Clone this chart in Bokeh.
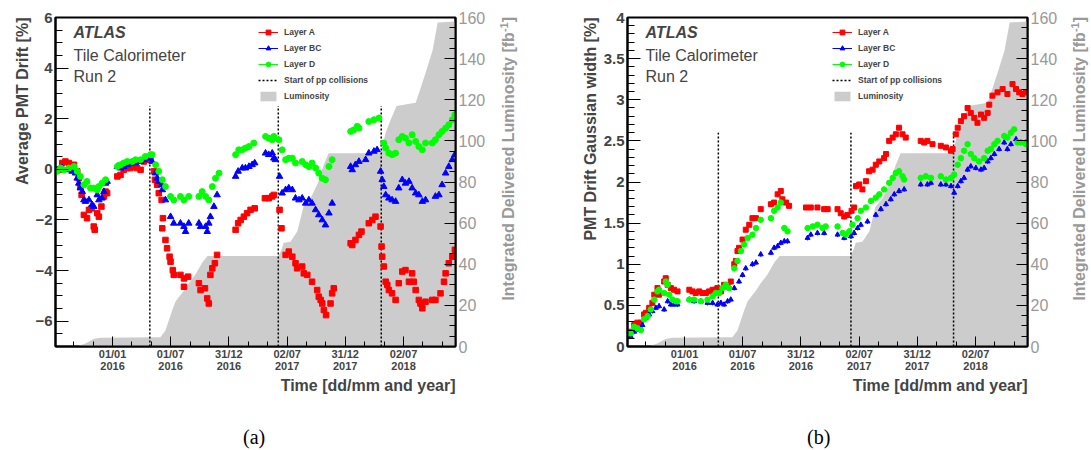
import pandas as pd
from bokeh.plotting import figure
from bokeh.models import (ColumnDataSource, Range1d, LinearAxis, FixedTicker,
                          DatetimeTickFormatter, CustomJSTickFormatter, Label,
                          Legend, LegendItem, Title, Div)
from bokeh.layouts import row, column
from bokeh.embed import file_html
from bokeh.resources import INLINE

# ---------------- data (days counted from 01/01/2016) ----------------
ORIGIN = "2016-01-01"
X_START_DAY = -179
X_END_DAY = 1076

TICK_DATES = ["2016-01-01", "2016-07-01", "2016-12-31",
              "2017-07-02", "2017-12-31", "2018-07-02"]

# cumulative delivered luminosity [fb^-1]
LUMI_DAYS = [-113, -85, -60, -38, 150, 166, 188, 198, 223, 238, 260, 282, 298,
             521, 530, 537, 558, 580, 599, 621, 643, 662, 678,
             841, 857, 872, 891, 951, 963, 982, 1004, 1020, 1076]
LUMI_VALS = [0, 1.5, 3.6, 4.3, 4.5, 7.8, 18, 22, 27, 30.5, 35, 41, 44,
             44, 47, 50.5, 51, 56, 68, 72, 79, 88, 94,
             94, 104, 110, 117, 118.5, 124, 133, 144, 157.6, 158]

# start of pp collisions
PP_DAYS_A = [117, 520, 843]
PP_DAYS_B = [106, 522, 844]

# ---- panel (a): average PMT drift [%] ----
A_DRIFT_DAYS = [-169, -158, -148, -137, -121, -111, -106, -101, -97, -90, -80, -74, -66, -59, -56, -48, -43, -35, -27, -22, -17,
                15, 25, 35, 46, 56, 67, 77, 88, 98, 109, 119,
                130, 133, 140, 145, 154, 158, 156, 166, 171, 179, 182, 189, 192, 213, 224, 224, 237, 271, 276, 290, 297, 302, 307, 313, 321, 328,
                386, 394, 402, 412, 422, 433, 446,
                478, 490, 501, 506,
                524, 530, 543, 553, 564, 574, 579, 595, 600, 611, 626, 642, 647, 653, 658, 663, 670, 684, 689, 694,
                747, 752, 762, 773, 781, 804, 815, 825,
                841, 844, 846, 851, 857, 862, 867, 877, 888, 898, 909, 919, 930, 940, 945, 951, 961, 966, 972, 982, 1003, 1013, 1029, 1040, 1045, 1055, 1066, 1074]
A_DRIFT = [-0.02, 0.25, 0.31, 0.25, 0.18, -0.08, -0.35, -0.68, -1.01, -1.80, -1.93, -1.60, -1.54, -2.26, -2.39, -1.73, -1.87, -1.47, -1.07, -0.88, -0.94,
           -0.28, -0.22, -0.02, 0.05, 0.05, 0.11, 0.05, -0.02, 0.31, 0.38, 0.44,
           -0.08, -0.41, -0.61, -0.94, -1.21, -1.93, -2.33, -2.79, -3.12, -3.45, -3.65, -3.98, -4.17, -4.17, -4.31, -4.64, -4.24, -4.50, -4.77, -4.70, -5.10, -5.30, -4.17, -3.91, -3.71, -3.38,
           -2.39, -2.13, -2.00, -1.87, -1.73, -1.60, -1.54,
           -1.14, -1.14, -1.07, -1.01,
           -1.60, -2.33, -3.38, -3.25, -3.45, -3.71, -3.91, -3.84, -4.11, -4.17, -4.44, -4.77, -5.03, -5.16, -5.30, -5.56, -5.76, -5.30, -4.90, -4.70,
           -2.92, -2.99, -2.79, -2.59, -2.46, -2.13, -2.00, -1.87,
           -2.26, -3.05, -3.45, -3.84, -4.44, -4.57, -4.77, -4.90, -5.16, -4.50, -4.04, -3.98, -4.44, -4.11, -4.44, -4.77, -5.16, -5.30, -5.49, -5.23, -5.16, -5.16, -4.90, -4.44, -4.11, -3.71, -3.45, -3.18]

BC_DRIFT_DAYS = [-174, -158, -142, -127, -116, -111, -106, -101, -95, -90, -85, -74, -64, -59, -48, -43, -33, -27, -22, -17,
                 15, 25, 35, 46, 56, 72, 88, 98, 114, 124,
                 135, 140, 145, 154, 156, 166, 182, 192, 213, 224, 229, 239, 271, 276, 292, 297, 302, 307, 318, 328,
                 386, 394, 407, 417, 428, 438, 446,
                 480, 490, 501, 506, 511,
                 524, 532, 543, 553, 564, 574, 585, 595, 606, 616, 626, 637, 647, 658, 668, 679, 689,
                 747, 752, 762, 773, 794, 804, 820, 830,
                 841, 846, 851, 857, 867, 877, 888, 898, 909, 919, 930, 940, 951, 961, 972, 982, 1013, 1024, 1034, 1045, 1055, 1066, 1074]
BC_DRIFT = [-0.02, 0.05, -0.02, -0.08, -0.15, -0.35, -0.55, -0.74, -0.88, -1.21, -1.27, -1.21, -1.40, -1.47, -1.01, -1.21, -1.14, -0.88, -0.55, -0.48,
            0.11, 0.05, 0.11, 0.18, 0.25, 0.25, 0.31, 0.38, 0.44, 0.31,
            -0.15, -0.35, -0.48, -0.61, -0.81, -1.21, -1.87, -2.13, -2.13, -2.26, -2.46, -2.13, -2.13, -2.26, -2.26, -2.46, -2.13, -1.87, -1.47, -1.01,
            -0.28, -0.08, 0.05, 0.05, 0.11, 0.18, 0.25,
            0.64, 0.58, 0.64, 0.44, 0.38,
            -0.28, -0.94, -0.81, -0.74, -0.81, -1.14, -1.21, -1.14, -1.34, -1.21, -1.34, -1.60, -1.80, -2.00, -2.20, -1.73, -1.34,
            0.11, -0.02, 0.18, 0.31, 0.38, 0.64, 0.71, 0.77,
            -0.08, -0.41, -0.68, -1.01, -1.14, -1.21, -1.27, -0.74, -0.41, -0.55, -0.48, -0.74, -0.94, -1.01, -1.27, -1.21, -1.07, -1.01, -0.61, -0.15, 0.11, 0.38, 0.58]

D_DRIFT_DAYS = [-174, -163, -153, -137, -121, -111, -101, -90, -80, -69, -59, -48, -43, -33, -22,
                15, 25, 35, 46, 62, 72, 88, 103, 119, 124,
                135, 145, 156, 166, 182, 192, 213, 224, 239, 271, 281, 292, 302, 313, 323, 334,
                386, 396, 407, 417, 428, 443,
                480, 490, 501, 506, 522, 532,
                543, 553, 564, 574, 595, 606, 616, 626, 637, 647, 658, 668, 679, 689,
                747, 757, 768, 773, 804, 820, 836,
                851, 857, 867, 877, 888, 898, 909, 919, 930, 940, 951, 961, 972, 982, 1003, 1013, 1024, 1034, 1045, 1055, 1066, 1074]
D_DRIFT = [-0.08, 0.05, -0.02, 0.05, 0.11, -0.08, -0.28, -0.61, -0.48, -0.74, -0.74, -0.81, -0.68, -0.55, -0.41,
           0.11, 0.18, 0.25, 0.31, 0.31, 0.38, 0.38, 0.51, 0.58, 0.58,
           0.18, -0.08, -0.41, -0.68, -1.07, -1.21, -1.07, -1.21, -1.07, -1.07, -0.88, -1.07, -1.21, -0.68, -0.35, -0.15,
           0.58, 0.77, 0.77, 0.84, 0.90, 1.04,
           1.30, 1.23, 1.17, 1.30, 1.17, 0.77,
           0.38, 0.44, 0.44, 0.25, 0.31, 0.18, 0.11, 0.25, 0.05, -0.15, -0.35, -0.41, 0.11, 0.38,
           1.50, 1.56, 1.70, 1.63, 1.89, 1.96, 2.03,
           1.04, 0.84, 0.64, 0.58, 0.64, 1.17, 1.30, 1.23, 1.04, 1.37, 1.10, 0.90, 0.77, 1.04, 1.04, 1.17, 1.37, 1.50, 1.63, 1.76, 1.96, 2.16]

# ---- panel (b): PMT drift Gaussian width [%] ----
A_WIDTH_DAYS = [-169, -158, -148, -137, -127, -121, -111, -101, -95, -85, -80, -64, -59, -53, -43, -33, -22,
                15, 25, 35, 46, 56, 67, 77, 88, 98, 103, 114, 124, 135, 145,
                156, 161, 166, 171, 182, 192, 203, 213, 224, 239, 271, 281, 292, 302, 307, 318, 328,
                381, 396, 417, 438, 449, 480, 490, 501, 511, 524, 532,
                538, 548, 558, 569, 579, 590, 600, 611, 626, 632, 642, 653, 663, 673, 684, 694,
                741, 752, 762, 778, 804, 820, 836, 841,
                851, 857, 867, 877, 888, 898, 909, 919, 930, 940, 951, 956, 966, 982, 998, 1013, 1029, 1040, 1050, 1060, 1071]
A_WIDTH = [0.18, 0.26, 0.29, 0.29, 0.39, 0.41, 0.47, 0.53, 0.63, 0.71, 0.63, 0.79, 0.83, 0.75, 0.71, 0.69, 0.67,
           0.69, 0.67, 0.65, 0.67, 0.65, 0.65, 0.67, 0.69, 0.69, 0.71, 0.67, 0.75, 0.73, 0.79,
           1.00, 1.04, 1.16, 1.20, 1.30, 1.42, 1.48, 1.56, 1.56, 1.67, 1.73, 1.75, 1.85, 1.89, 1.79, 1.75, 1.71,
           1.69, 1.69, 1.69, 1.67, 1.67, 1.67, 1.62, 1.58, 1.60, 1.65, 1.69,
           1.95, 1.97, 1.91, 2.01, 2.13, 2.15, 2.21, 2.25, 2.29, 2.34, 2.50, 2.54, 2.58, 2.66, 2.58, 2.54,
           2.50, 2.48, 2.50, 2.46, 2.44, 2.42, 2.38, 2.40,
           2.58, 2.66, 2.74, 2.80, 2.90, 2.84, 2.78, 2.72, 2.82, 2.78, 2.84, 2.94, 3.05, 3.09, 3.13, 3.07, 3.19, 3.13, 3.09, 3.07, 3.09]

BC_WIDTH_DAYS = [-169, -158, -142, -132, -121, -111, -101, -90, -80, -64, -53, -43, -33, -22,
                 15, 30, 51, 72, 88, 103, 114, 124, 135, 145,
                 156, 171, 182, 192, 213, 224, 239, 271, 281, 292, 302, 313, 323,
                 386, 396, 417, 438, 480, 501, 522, 532,
                 543, 553, 574, 600, 616, 632, 647, 658, 673, 689,
                 741, 762, 773, 804, 820, 836,
                 846, 857, 867, 877, 888, 898, 914, 930, 940, 951, 961, 972, 987, 1003, 1013, 1024, 1040, 1055, 1071]
BC_WIDTH = [0.12, 0.18, 0.20, 0.26, 0.35, 0.39, 0.43, 0.47, 0.49, 0.45, 0.55, 0.51, 0.51, 0.51,
            0.57, 0.55, 0.55, 0.53, 0.53, 0.51, 0.53, 0.51, 0.55, 0.57,
            0.71, 0.79, 0.87, 0.95, 1.00, 1.02, 1.12, 1.14, 1.20, 1.22, 1.26, 1.28, 1.28,
            1.32, 1.36, 1.38, 1.38, 1.36, 1.32, 1.34, 1.38,
            1.44, 1.48, 1.52, 1.60, 1.67, 1.73, 1.79, 1.85, 1.89, 1.91,
            1.97, 1.97, 1.99, 1.97, 1.97, 1.95,
            1.87, 1.95, 2.01, 2.05, 2.15, 2.19, 2.17, 2.15, 2.17, 2.25, 2.29, 2.34, 2.40, 2.48, 2.40, 2.46, 2.52, 2.48, 2.48]

D_WIDTH_DAYS = [-169, -158, -148, -137, -127, -116, -106, -95, -85, -80, -64, -59, -53, -48, -38, -27, -22,
                15, 30, 51, 72, 88, 98, 109, 119, 130, 140,
                156, 166, 177, 187, 198, 213, 224, 239, 271, 281, 292, 302, 313, 323,
                386, 402, 417, 433, 443, 480, 496, 506, 517, 527,
                543, 553, 569, 585, 600, 611, 626, 642, 653, 663, 673, 684, 689,
                741, 757, 773, 804, 820, 836,
                846, 857, 867, 877, 888, 898, 909, 924, 940, 951, 961, 972, 982, 1003, 1013, 1024, 1034, 1045, 1055, 1071]
D_WIDTH = [0.16, 0.24, 0.22, 0.20, 0.33, 0.37, 0.45, 0.57, 0.67, 0.69, 0.65, 0.79, 0.75, 0.63, 0.57, 0.55, 0.55,
           0.57, 0.57, 0.55, 0.57, 0.61, 0.65, 0.65, 0.71, 0.75, 0.71,
           0.95, 1.04, 1.16, 1.24, 1.32, 1.36, 1.44, 1.54, 1.56, 1.65, 1.69, 1.75, 1.44, 1.40,
           1.44, 1.46, 1.48, 1.44, 1.46, 1.46, 1.38, 1.36, 1.40, 1.48,
           1.56, 1.65, 1.69, 1.77, 1.81, 1.85, 1.91, 1.99, 2.05, 2.11, 2.13, 2.07, 2.03,
           2.05, 2.07, 2.05, 2.07, 2.03, 2.05,
           2.09, 2.21, 2.29, 2.38, 2.46, 2.34, 2.29, 2.25, 2.29, 2.38, 2.40, 2.46, 2.50, 2.56, 2.54, 2.60, 2.64, 2.48, 2.48, 2.46]
WIDTH_ERR = 0.03  # half-length of the error bars in panel (b)

LEGEND_LABELS = ["Layer A", "Layer BC", "Layer D", "Start of pp collisions", "Luminosity"]
LUMI_TITLE = "Integrated Delivered Luminosity [fb<sup style='font-size:11px'>-1</sup>]"

# ---------------- styling ----------------
FONT = "Liberation Sans"
RED, BLUE, GREEN = "#ff0000", "#0000ff", "#00ff00"
LUMI_FILL = "#cccccc"
LUMI_TEXT = "#999999"
DAY_MS = 86400000.0
ORIGIN_MS = pd.Timestamp(ORIGIN).value / 1e6
FIG_W, FIG_H = 490, 420


def to_ms(days):
    return [ORIGIN_MS + d * DAY_MS for d in days]


MAJOR_MS = [pd.Timestamp(d).value / 1e6 for d in TICK_DATES]
STEP = (MAJOR_MS[-1] - MAJOR_MS[0]) / (len(MAJOR_MS) - 1) / 3.0
X0, X1 = to_ms([X_START_DAY])[0], to_ms([X_END_DAY])[0]
MINOR_MS = [MAJOR_MS[0] + k * STEP for k in range(-4, 22)
            if X0 <= MAJOR_MS[0] + k * STEP <= X1]

FMT = "%d/%m\n%Y"


def build(ylabel, y0, y1, yticks, yminor, yfmt, series, pp_days,
          pp_top, legend_x, err=None, sizes=(5.5, 6.5, 6)):
    p = figure(x_axis_type="datetime", x_range=Range1d(X0, X1), y_range=Range1d(y0, y1),
               frame_width=400, frame_height=329, min_border_left=55,
               min_border_right=35, min_border_top=17, min_border_bottom=74,
               output_backend="svg", toolbar_location=None,
               outline_line_color="black", outline_line_width=2,
               background_fill_color="white", border_fill_color="white")
    p.xgrid.visible = False
    p.ygrid.visible = False
    p.extra_y_ranges = {"lumi": Range1d(0, 160)}

    lumi_r = p.varea(x=to_ms(LUMI_DAYS), y1=0, y2=LUMI_VALS, y_range_name="lumi",
                     fill_color=LUMI_FILL)
    pp_r = p.segment(x0=to_ms(pp_days), y0=y0, x1=to_ms(pp_days), y1=pp_top,
                     line_color="black", line_width=1.5, line_dash="2 2")

    items = []
    markers = ["square", "triangle", "circle"]
    for (label, days, vals, color), marker, size in zip(series, markers, sizes):
        src = ColumnDataSource(dict(x=to_ms(days), y=vals,
                                    lo=[v - (err or 0) for v in vals],
                                    hi=[v + (err or 0) for v in vals]))
        if err:
            p.segment(x0="x", y0="lo", x1="x", y1="hi", source=src,
                      line_color=color, line_width=1)
        # line used only for the legend swatch (not drawn in the plot)
        lr = p.line(x="x", y="y", source=src, line_color=color, line_width=1,
                    visible=False)
        sr = p.scatter(x="x", y="y", source=src, marker=marker, size=size,
                       fill_color=color, line_color=color)
        items.append(LegendItem(label=label, renderers=[lr, sr]))
    items.append(LegendItem(label=LEGEND_LABELS[3], renderers=[pp_r]))
    items.append(LegendItem(label=LEGEND_LABELS[4], renderers=[lumi_r]))

    leg = Legend(items=items, location=(legend_x, 244), padding=0, margin=0,
                 spacing=4, glyph_width=20, glyph_height=12, label_height=12,
                 label_standoff=6, label_text_font=FONT, label_text_font_size="8.5px",
                 label_text_font_style="bold", border_line_alpha=0,
                 background_fill_alpha=0, inactive_fill_alpha=0)
    p.add_layout(leg)

    # x axis
    xa = p.xaxis[0]
    xa.ticker = FixedTicker(ticks=MAJOR_MS, minor_ticks=MINOR_MS)
    xa.formatter = DatetimeTickFormatter(microseconds=FMT, milliseconds=FMT, seconds=FMT,
                                         minsec=FMT, minutes=FMT, hourmin=FMT, hours=FMT,
                                         days=FMT, months=FMT, years=FMT)
    xa.major_label_text_font = FONT
    xa.major_label_text_font_style = "bold"
    xa.major_label_text_font_size = "11px"
    xa.major_label_text_line_height = 1.0
    xa.major_label_standoff = 1
    xa.major_tick_in, xa.major_tick_out = 10, 0
    xa.minor_tick_in, xa.minor_tick_out = 5, 0
    xa.axis_line_width = 2

    # left axis
    ya = p.yaxis[0]
    ya.ticker = FixedTicker(ticks=yticks, minor_ticks=yminor)
    ya.formatter = CustomJSTickFormatter(code=yfmt)
    ya.major_label_text_font = FONT
    ya.major_label_text_font_style = "bold"
    ya.major_label_text_font_size = "15px"
    ya.major_label_standoff = 3
    ya.major_tick_in, ya.major_tick_out = 13, 0
    ya.minor_tick_in, ya.minor_tick_out = 7, 0
    ya.axis_line_width = 2

    # right luminosity axis
    ra = LinearAxis(y_range_name="lumi",
                    ticker=FixedTicker(ticks=list(range(0, 161, 20)),
                                       minor_ticks=list(range(0, 161, 5))))
    ra.major_label_text_font = FONT
    ra.major_label_text_font_size = "16px"
    ra.major_label_text_color = LUMI_TEXT
    ra.major_label_standoff = 3
    ra.major_tick_in, ra.major_tick_out = 11, 0
    ra.minor_tick_in, ra.minor_tick_out = 6, 0
    ra.axis_line_width = 2
    p.add_layout(ra, "right")

    # axis titles placed in the side panels
    p.add_layout(Title(text=ylabel, align="right", standoff=3, text_font=FONT,
                       text_font_size="16px", text_font_style="bold"), "left")
    p.add_layout(Title(text="Time [dd/mm and year]", align="right", standoff=0,
                       text_font=FONT, text_font_size="16px", text_font_style="bold"),
                 "below")

    def lab(text, x, y, size, **kw):
        p.add_layout(Label(x=x, y=y, x_units="screen", y_units="screen", text=text,
                           text_font=FONT, text_font_size=size, **kw))

    lab("ATLAS", 18, 306, "16px", text_font_style="bold italic")
    lab("Tile Calorimeter", 18, 283, "16px")
    lab("Run 2", 18, 262, "16px")
    return p


def lumi_title_div(width, pivot):
    # rotated (reading upwards) luminosity axis title, its end at the frame top
    html = ("<div style=\"position:relative;width:%dpx;height:%dpx;\">"
            "<div style=\"position:absolute;top:17px;right:%.1fpx;transform-origin:top right;"
            "transform:rotate(-90deg);white-space:nowrap;font-family:'Liberation Sans';"
            "font-weight:bold;font-size:16px;line-height:19px;color:%s;\">%s</div></div>"
            % (width, FIG_H, width - pivot, LUMI_TEXT, LUMI_TITLE))
    return Div(text=html, width=width, height=FIG_H, margin=0)


def caption_div(text, width, left):
    html = ("<div style=\"position:relative;width:%dpx;height:30px;\">"
            "<span style=\"position:absolute;left:%dpx;top:5px;font-family:'Liberation Serif';"
            "font-size:20px;line-height:24px;color:black;\">%s</span></div>"
            % (width, left, text))
    return Div(text=html, width=width, height=30, margin=0)


NEG_FMT = "return tick < 0 ? '\u2212' + String(-tick) : String(tick);"
PLAIN_FMT = "return String(tick);"

p1 = build("Average PMT Drift [%]", -7, 6, [-6, -4, -2, 0, 2, 4, 6],
           [-7 + 0.5 * i for i in range(27)], NEG_FMT,
           [("Layer A", A_DRIFT_DAYS, A_DRIFT, RED),
            ("Layer BC", BC_DRIFT_DAYS, BC_DRIFT, BLUE),
            ("Layer D", D_DRIFT_DAYS, D_DRIFT, GREEN)],
           PP_DAYS_A, 2.5, 203)

p2 = build("PMT Drift Gaussian width [%]", 0, 4, [0.5 * i for i in range(9)],
           [0.1 * i for i in range(41)], PLAIN_FMT,
           [("Layer A", A_WIDTH_DAYS, A_WIDTH, RED),
            ("Layer BC", BC_WIDTH_DAYS, BC_WIDTH, BLUE),
            ("Layer D", D_WIDTH_DAYS, D_WIDTH, GREEN)],
           PP_DAYS_B, 2.6, 205, err=WIDTH_ERR, sizes=(5, 5, 5.5))

d1 = lumi_title_div(82, 4.5)
d2 = lumi_title_div(29, 4.0)
ca = caption_div("(a)", 572, 243)
cb = caption_div("(b)", 519, 235)

layout = column(row(p1, d1, p2, d2, spacing=0), row(ca, cb, spacing=0), spacing=0)
open("out.html", "w").write(file_html(layout, INLINE))
